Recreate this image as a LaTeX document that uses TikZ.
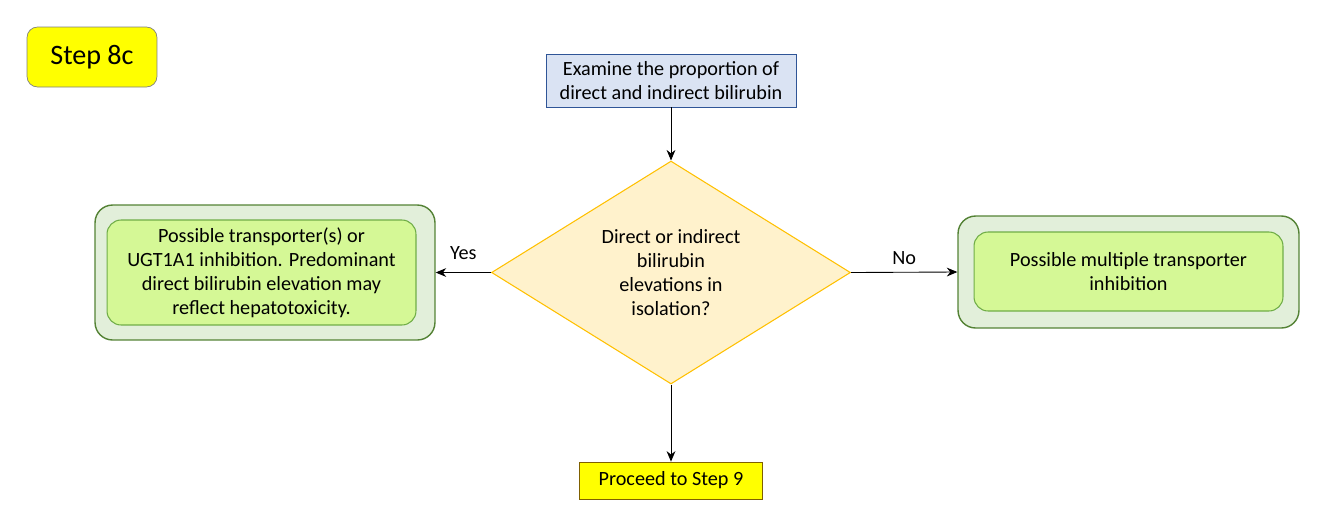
\documentclass[tikz,border=0pt]{standalone}
\usepackage{fontspec}
\setmainfont{Carlito}
\usetikzlibrary{arrows.meta,positioning,shapes.geometric}
\definecolor{StepYellow}{HTML}{FFFF00}
\definecolor{StepGray}{HTML}{7F7F7F}
\definecolor{ExamBlue}{HTML}{DAE3F3}
\definecolor{ExamEdge}{HTML}{2F5597}
\definecolor{AskFill}{HTML}{FFF2CC}
\definecolor{AskEdge}{HTML}{FFC000}
\definecolor{OuterFill}{HTML}{E2EFDA}
\definecolor{OuterEdge}{HTML}{548235}
\definecolor{InnerFill}{HTML}{D5F896}
\definecolor{InnerEdge}{HTML}{70AD47}
\definecolor{GoEdge}{HTML}{7F6000}

\begin{document}
\begin{tikzpicture}[x=0.02cm,y=-0.02cm,
  every node/.style={font=\fontsize{11.5}{13.6}\selectfont,align=center,inner sep=0pt},
  flow/.style={-{Stealth[length=6pt,width=5pt]},line width=0.5pt},
  outerbox/.style={draw=OuterEdge,fill=OuterFill,rounded corners=10pt,line width=0.8pt},
  innerbox/.style={draw=InnerEdge,fill=InnerFill,rounded corners=8pt,line width=0.6pt}]
  \useasboundingbox (0,0) rectangle (1325,525);

  % step tag
  \node[draw=StepGray,fill=StepYellow,rounded corners=6pt,minimum width=2.6cm,minimum height=1.2cm,
    font=\fontsize{16}{19}\selectfont] (step) at (92,57) {Step 8c};

  % start and question
  \node[draw=ExamEdge,fill=ExamBlue,minimum width=5cm,minimum height=1.06cm] (exam) at (671,80.5)
    {Examine the proportion of\\direct and indirect bilirubin};
  \node[diamond,draw=AskEdge,fill=AskFill,line width=0.6pt,minimum width=7.18cm,minimum height=4.46cm,
    shape aspect=1.61] (ask) at (671,272.5)
    {Direct or indirect\\bilirubin\\elevations in\\isolation?};

  % yes branch
  \node[outerbox,minimum width=6.8cm,minimum height=2.7cm] (yesout) at (265,272.5) {};
  \node[innerbox,minimum width=6.18cm,minimum height=2.1cm] (yesin) at (261.5,272.5)
    {Possible transporter(s) or\\UGT1A1 inhibition. Predominant\\direct bilirubin elevation may\\reflect hepatotoxicity.};

  % no branch
  \node[outerbox,minimum width=6.82cm,minimum height=2.24cm] (noout) at (1128.5,272) {};
  \node[innerbox,minimum width=6.18cm,minimum height=1.58cm] (noin) at (1128.5,271.5)
    {Possible multiple transporter\\inhibition};

  % next step
  \node[draw=GoEdge,fill=StepYellow,minimum width=3.66cm,minimum height=0.74cm] (next) at (671,480.5)
    {Proceed to Step 9};

  \draw[flow] (exam.south) -- (ask.north);
  \draw[flow] (ask.west) -- (yesout.east) node[midway,above=7pt] (yes) {Yes};
  \draw[flow] (ask.east) -- (noout.west) node[midway,above=4pt] (no) {No};
  \draw[flow] (ask.south) -- (next.north);
\end{tikzpicture}
\end{document}
